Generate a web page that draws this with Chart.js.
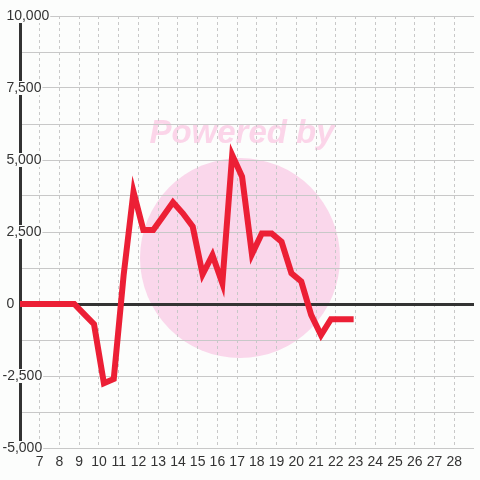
<!DOCTYPE html>
<html>
<head>
<meta charset="utf-8">
<script src="https://cdn.jsdelivr.net/npm/chart.js@4.4.0/dist/chart.umd.min.js"></script>
<style>
  html,body{margin:0;padding:0;background:#fcfdfc;}
  #c{display:block;}
</style>
</head>
<body>
<canvas id="c" width="480" height="480"></canvas>
<script>
'use strict';

/* ── data ── */
const xVals=[5.75,6.25,6.75,7.25,7.75,8.25,8.75,9.25,9.75,10.25,10.75,11.25,11.75,12.25,12.75,13.25,13.75,14.25,14.75,15.25,15.75,16.25,16.75,17.25,17.75,18.25,18.75,19.25,19.75,20.25,20.75,21.25,21.75,22.25,22.75];
const yVals=[0,0,0,0,0,0,0,-350,-700,-2750,-2600,1000,3900,2570,2570,3050,3530,3150,2690,1030,1700,720,5170,4420,1730,2450,2450,2160,1070,780,-380,-1080,-530,-530,-530];
const xMin=6, xMax=29;
const yMin=-5000, yMax=10000, yStep=1250, yLabelStep=2500;

const BG='#fcfdfc';
const GRID='#c8c8c8';
const INK='#333333';

// watermark behind the grid
const watermark={
  id:'watermark',
  beforeDraw(chart){
    const c=chart.ctx;
    c.save();
    c.fillStyle=BG;
    c.fillRect(0,0,chart.width,chart.height);
    c.fillStyle='#fad7eb';
    c.beginPath();
    c.arc(240,258,100,0,Math.PI*2);
    c.fill();
    c.fillStyle='#fbd5e9';
    c.font='italic bold 33px "Liberation Sans", Arial, sans-serif';
    c.textAlign='center';
    c.textBaseline='middle';
    c.fillText('Powered by',242,134);
    c.restore();
  }
};

new Chart(document.getElementById('c'),{
  type:'line',
  data:{
    datasets:[{
      data:xVals.map((x,i)=>({x:x,y:yVals[i]})),
      borderColor:'#ec1f35',
      borderWidth:6,
      borderCapStyle:'square',
      borderJoinStyle:'miter',
      pointRadius:0,
      tension:0,
      fill:false
    }]
  },
  options:{
    responsive:false,
    animation:false,
    layout:{padding:{top:16,left:0,right:0,bottom:0}},
    plugins:{legend:{display:false},tooltip:{enabled:false}},
    scales:{
      x:{
        type:'linear',min:xMin,max:xMax,
        afterFit(s){s.height=32;},
        grid:{
          drawTicks:false,
          lineWidth:1,
          color:c=>(c.tick&&(c.tick.value===xMin||c.tick.value===xMax))?'rgba(0,0,0,0)':GRID
        },
        border:{display:false,dash:[3,3]},
        ticks:{
          stepSize:1,autoSkip:false,maxRotation:0,padding:6,
          color:INK,
          font:{family:'"Liberation Sans", Arial, sans-serif',size:14},
          callback:v=>(v===xMin||v===xMax)?'':String(v)
        }
      },
      y:{
        min:yMin,max:yMax,
        afterFit(s){s.width=20;},
        grid:{
          drawTicks:false,
          color:c=>(c.tick&&c.tick.value===0)?INK:GRID,
          lineWidth:c=>(c.tick&&c.tick.value===0)?3:1
        },
        border:{display:true,color:INK,width:3},
        ticks:{
          stepSize:yStep,mirror:true,padding:-17.5,
          color:INK,
          font:{family:'"Liberation Sans", Arial, sans-serif',size:14,lineHeight:1},
          showLabelBackdrop:true,
          backdropPadding:{x:1,y:0},
          backdropColor:c=>(c.tick&&c.tick.value%yLabelStep===0)?BG:'rgba(0,0,0,0)',
          callback:v=>{
            if(v%yLabelStep!==0)return '';
            const s=v.toLocaleString('en-US');
            return v<0?s:' '+s;
          }
        }
      }
    }
  },
  plugins:[watermark]
});
</script>
</body>
</html>
